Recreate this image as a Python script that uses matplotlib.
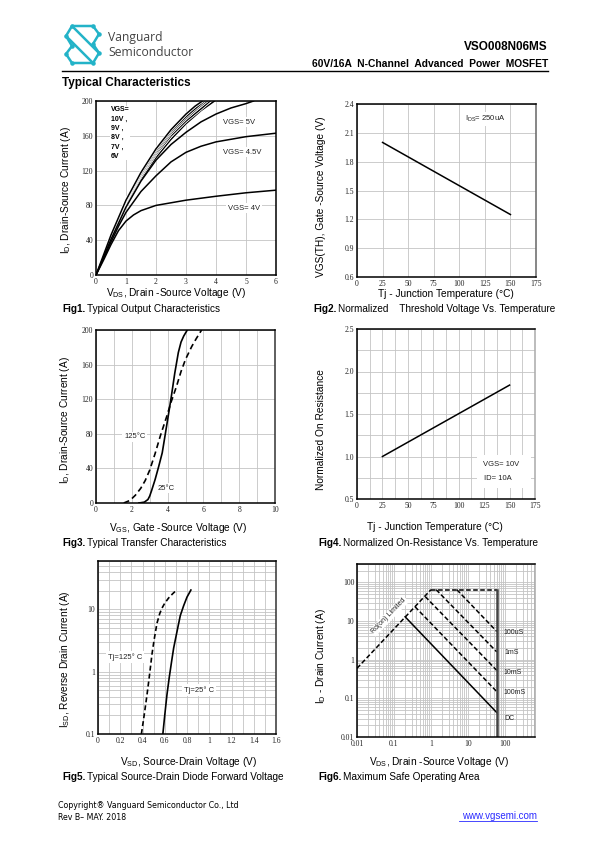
import matplotlib
matplotlib.use('Agg')
import matplotlib.pyplot as plt
from matplotlib.ticker import NullFormatter
from matplotlib.patches import Rectangle
import matplotlib.patheffects as pe

plt.rcParams['font.family'] = ['Liberation Sans', 'DejaVu Sans']
plt.rcParams['mathtext.default'] = 'regular'

# ---------------- data ----------------
# Fig1 output characteristics (VDS, ID)
f1_x_10v = [0, 0.5, 1, 1.5, 2, 2.5, 3, 3.3, 3.55]
f1_y_10v = [0, 46, 86, 118, 145, 167, 185, 194, 200]
f1_x_9v = [0, 0.5, 1, 1.5, 2, 2.5, 3, 3.3, 3.62]
f1_y_9v = [0, 45, 85, 116, 143, 165, 182, 191, 200]
f1_x_8v = [0, 0.5, 1, 1.5, 2, 2.5, 3, 3.4, 3.7]
f1_y_8v = [0, 45, 84, 115, 141, 163, 180, 192, 200]
f1_x_7v = [0, 0.5, 1, 1.5, 2, 2.5, 3, 3.5, 3.8]
f1_y_7v = [0, 44, 82, 113, 139, 160, 177, 191, 200]
f1_x_6v = [0, 0.5, 1, 1.5, 2, 2.5, 3, 3.5, 3.95]
f1_y_6v = [0, 43, 80, 110, 135, 156, 174, 189, 200]
f1_x_5v = [0, 0.5, 1, 1.5, 2, 2.5, 3, 3.5, 4, 4.5, 5, 5.25]
f1_y_5v = [0, 41, 78, 108, 132, 150, 164, 176, 185, 192, 197, 200]
f1_x_45v = [0, 0.25, 0.5, 0.75, 1, 1.5, 2, 2.5, 3, 3.5, 4, 5, 6]
f1_y_45v = [0, 19, 38, 56, 72, 96, 114, 130, 141, 148, 153, 159, 163]
f1_x_4v = [0, 0.25, 0.5, 0.75, 1, 1.25, 1.5, 2, 2.5, 3, 4, 5, 6]
f1_y_4v = [0, 17, 35, 51, 62, 69, 74, 80, 83, 86, 90.5, 94.5, 97.5]

# Fig2 threshold voltage vs temperature
f2_t = [25, 150]
f2_v = [2.0, 1.25]

# Fig3 transfer characteristics (VGS, ID)
f3_x_25 = [2.4, 2.7, 2.9, 3.0, 3.1, 3.3, 3.5, 3.7, 4.0, 4.2, 4.4, 4.6, 4.75, 4.9, 5.1]
f3_y_25 = [0, 1, 4, 8, 14, 27, 42, 58, 96, 122, 150, 174, 186, 193, 200]
f3_x_125 = [1.55, 1.9, 2.2, 2.5, 2.75, 3.0, 3.3, 3.6, 3.95, 4.2, 4.5, 4.75, 5.0, 5.35, 5.6, 5.9]
f3_y_125 = [0, 3, 9, 17, 26, 38, 57, 78, 100, 117, 135, 152, 166, 181, 190, 200]

# Fig4 normalized on-resistance vs temperature
f4_t = [25, 150]
f4_r = [1.0, 1.84]

# Fig5 diode forward voltage (VSD, ISD)
f5_x_125 = [0.39, 0.415, 0.44, 0.46, 0.485, 0.505, 0.53, 0.555, 0.575, 0.60, 0.635, 0.67, 0.70]
f5_y_125 = [0.1, 0.2, 0.42, 0.8, 1.9, 3.3, 6.0, 8.6, 10.5, 12.6, 15.3, 17.8, 20]
f5_x_25 = [0.583, 0.60, 0.62, 0.64, 0.66, 0.68, 0.70, 0.72, 0.74, 0.77, 0.80, 0.835]
f5_y_25 = [0.1, 0.2, 0.43, 0.8, 1.4, 2.4, 3.6, 5.4, 8.0, 11.5, 15.8, 20.5]

# Fig6 safe operating area (VDS, ID)
f6_rds_x = [0.01, 1.0]
f6_rds_y = [0.6, 65]
f6_top_x = [1.0, 60]
f6_top_y = [65, 65]
f6_100us_x = [5, 60]
f6_100us_y = [65, 5.4]
f6_1ms_x = [1.38, 60]
f6_1ms_y = [65, 1.6]
f6_10ms_x = [0.70, 60]
f6_10ms_y = [43, 0.53]
f6_100ms_x = [0.37, 60]
f6_100ms_y = [23.5, 0.15]
f6_dc_x = [0.2, 60]
f6_dc_y = [12.9, 0.043]
f6_vmax_x = [60, 60]
f6_vmax_y = [65, 0.01]

# ---------------- layout helpers ----------------
W, H = 595, 842
fig = plt.figure(figsize=(W / 100, H / 100), dpi=100)


def fx(x):
    return x / W


def fy(y):
    return 1 - y / H


def add_ax(x0, x1, y0, y1):
    return fig.add_axes([fx(x0), fy(y1), (x1 - x0) / W, (y1 - y0) / H])


TICKKW = dict(fontfamily='Liberation Serif', fontsize=5.5, color='#222222')
GRID = dict(color='#c4c4c4', lw=0.6)
LBL = 7.3


def style(ax, right='black'):
    ax.tick_params(which='both', length=0, pad=2)
    for s in ax.spines.values():
        s.set_linewidth(1.1)
        s.set_color('black')
    ax.spines['right'].set_color(right)
    ax.grid(True, which='both', **GRID)
    ax.set_axisbelow(True)


def ftext(x, y, s, **kw):
    return fig.text(fx(x), fy(y), s, **kw)


def wtext(x, y, s, size=5.5, **kw):
    return fig.text(fx(x), fy(y), s, fontsize=size, color='#222222', va='center',
                    bbox=dict(facecolor='white', edgecolor='none', pad=1.2), zorder=5, **kw)


# ---------------- header ----------------
logo = add_ax(58, 106, 22, 68)
logo.set_xlim(58, 106)
logo.set_ylim(68, 22)
logo.axis('off')
teal = '#23b3c8'
segs = [
    [(99, 34), (93, 26), (72, 26), (66, 36), (72, 46)],
    [(66, 54), (72, 63), (93, 63), (99, 53), (93, 44)],
    [(72, 26), (99, 53)],
    [(66, 36), (93, 63)],
    [(72, 46), (66, 54)],
    [(93, 44), (99, 34)],
]
for sg in segs:
    logo.plot([p[0] for p in sg], [p[1] for p in sg], color=teal, lw=1.8,
              solid_capstyle='round', solid_joinstyle='round')
dots = [(72, 26), (93, 26), (66, 36), (72, 46), (93, 44), (99, 53), (93, 63), (72, 63), (99, 34), (66, 54)]
logo.scatter([d[0] for d in dots], [d[1] for d in dots], s=5, color=teal, zorder=3)

ftext(108, 38, 'Vanguard', fontsize=8.7, color='#444444', va='center', fontfamily='Open Sans')
ftext(108, 53, 'Semiconductor', fontsize=8.7, color='#444444', va='center', fontfamily='Open Sans')
ftext(548, 47, 'VSO008N06MS', fontsize=8.5, fontweight='bold', ha='right', va='center')
ftext(548, 64, '60V/16A  N-Channel  Advanced  Power  MOSFET', fontsize=7.4,
      fontweight='bold', ha='right', va='center')
fig.add_artist(plt.Line2D([fx(62), fx(548)], [fy(71), fy(71)], color='black', lw=1.0))
ftext(62, 83, 'Typical Characteristics', fontsize=8.5, fontweight='bold', va='center')

# ---------------- Fig1 ----------------
ax1 = add_ax(96, 276, 101, 275)
ax1.set_xlim(0, 6)
ax1.set_ylim(0, 200)
ax1.set_xticks(range(7), [str(i) for i in range(7)], **TICKKW)
ax1.set_yticks(range(0, 201, 40), [str(v) for v in range(0, 201, 40)], **TICKKW)
style(ax1)
halo = [pe.withStroke(linewidth=2.3, foreground='white')]
for xs, ys in [(f1_x_6v, f1_y_6v), (f1_x_7v, f1_y_7v), (f1_x_8v, f1_y_8v),
               (f1_x_9v, f1_y_9v), (f1_x_10v, f1_y_10v)]:
    ax1.plot(xs, ys, color='black', lw=1.1, path_effects=halo, clip_on=True)
for xs, ys in [(f1_x_5v, f1_y_5v), (f1_x_45v, f1_y_45v), (f1_x_4v, f1_y_4v)]:
    ax1.plot(xs, ys, color='black', lw=1.1)
ftext(111, 133, 'VGS=\n10V ,\n9V ,\n8V ,\n7V ,\n6V', fontsize=5, fontweight='bold',
      va='center', linespacing=1.45,
      bbox=dict(facecolor='white', edgecolor='none', pad=0.5), zorder=5)
wtext(223, 122, 'VGS= 5V')
wtext(223, 152, 'VGS= 4.5V')
wtext(228, 208, 'VGS= 4V')
ftext(176, 293, r'V$_{DS}$, Drain -Source Voltage (V)', fontsize=LBL, ha='center', va='center')
ftext(66, 190, r'I$_{D}$, Drain-Source Current (A)', fontsize=LBL, ha='center', va='center',
      rotation=90)

# ---------------- Fig2 ----------------
ax2 = add_ax(357, 536, 104, 277)
ax2.set_xlim(0, 175)
ax2.set_ylim(0.6, 2.4)
ax2.set_xticks(range(0, 176, 25), [str(v) for v in range(0, 176, 25)], **TICKKW)
yt2 = [0.6, 0.9, 1.2, 1.5, 1.8, 2.1, 2.4]
ax2.set_yticks(yt2, ['%.1f' % v for v in yt2], **TICKKW)
style(ax2, right='#666666')
ax2.plot(f2_t, f2_v, color='black', lw=1.1)
wtext(465, 119, r'I$_{DS}$= 250uA')
ftext(446, 294, 'Tj - Junction Temperature (°C)', fontsize=LBL, ha='center', va='center')
ftext(321, 197, 'VGS(TH), Gate -Source Voltage (V)', fontsize=LBL, ha='center', va='center',
      rotation=90)

# ---------------- Fig3 ----------------
ax3 = add_ax(96, 275, 330, 503)
ax3.set_xlim(0, 10)
ax3.set_ylim(0, 200)
ax3.set_xticks(range(0, 11, 2), [str(v) for v in range(0, 11, 2)], **TICKKW)
ax3.set_xticks(range(0, 11), minor=True)
ax3.set_yticks(range(0, 201, 40), [str(v) for v in range(0, 201, 40)], **TICKKW)
style(ax3, right='#333333')
ax3.plot(f3_x_25, f3_y_25, color='black', lw=1.2)
ax3.plot(f3_x_125, f3_y_125, color='black', lw=1.2, ls=(0, (3.5, 2.2)))
wtext(124, 437, '125°C')
wtext(158, 488, '25°C')
ftext(178, 528, r'V$_{GS}$, Gate -Source Voltage (V)', fontsize=LBL, ha='center', va='center')
ftext(65, 420, r'I$_{D}$, Drain-Source Current (A)', fontsize=LBL, ha='center', va='center',
      rotation=90)

# ---------------- Fig4 ----------------
ax4 = add_ax(357, 535, 329, 499)
ax4.set_xlim(0, 175)
ax4.set_ylim(0.5, 2.5)
ax4.set_xticks(range(0, 176, 25), [str(v) for v in range(0, 176, 25)], **TICKKW)
ax4.set_xticks([12.5 + 25 * i for i in range(7)], minor=True)
yt4 = [0.5, 1.0, 1.5, 2.0, 2.5]
ax4.set_yticks(yt4, ['%.1f' % v for v in yt4], **TICKKW)
ax4.set_yticks([0.75, 1.25, 1.75, 2.25], minor=True)
style(ax4, right='#aaaaaa')
ax4.plot(f4_t, f4_r, color='black', lw=1.1)
fig.add_artist(Rectangle((fx(477), fy(488)), 54 / W, 33 / H, transform=fig.transFigure,
                         facecolor='white', edgecolor='none', zorder=4))
ftext(483, 465, 'VGS= 10V', fontsize=5.5, color='#222222', va='center', zorder=5)
ftext(484, 479, 'ID= 10A', fontsize=5.5, color='#222222', va='center', zorder=5)
ftext(435, 527, 'Tj - Junction Temperature (°C)', fontsize=LBL, ha='center', va='center')
ftext(321, 430, 'Normalized On Resistance', fontsize=LBL, ha='center', va='center', rotation=90)

# ---------------- Fig5 ----------------
ax5 = add_ax(98, 276, 561, 734)
ax5.set_yscale('log')
ax5.set_xlim(0, 1.6)
ax5.set_ylim(0.1, 60)
xt5 = [0, 0.2, 0.4, 0.6, 0.8, 1.0, 1.2, 1.4, 1.6]
ax5.set_xticks(xt5, ['0', '0.2', '0.4', '0.6', '0.8', '1', '1.2', '1.4', '1.6'], **TICKKW)
ax5.set_xticks([0.1 + 0.2 * i for i in range(8)], minor=True)
ax5.set_yticks([0.1, 1, 10], ['0.1', '1', '10'], **TICKKW)
ax5.set_yticks([m * d for d in (0.1, 1, 10) for m in range(2, 10) if m * d <= 60], minor=True)
ax5.yaxis.set_minor_formatter(NullFormatter())
style(ax5, right='#333333')
ax5.plot(f5_x_25, f5_y_25, color='black', lw=1.2)
ax5.plot(f5_x_125, f5_y_125, color='black', lw=1.2, ls=(0, (3, 1.8)))
wtext(108, 657, 'Tj=125° C')
wtext(184, 690, 'Tj=25° C')
ftext(189, 762, r'V$_{SD}$, Source-Drain Voltage (V)', fontsize=LBL, ha='center', va='center')
ftext(65, 659, r'I$_{SD}$, Reverse Drain Current (A)', fontsize=LBL, ha='center', va='center',
      rotation=90)

# ---------------- Fig6 ----------------
ax6 = add_ax(357, 535, 564, 737)
ax6.set_xscale('log')
ax6.set_yscale('log')
ax6.set_xlim(0.01, 650)
ax6.set_ylim(0.01, 300)
dec = [0.01, 0.1, 1, 10, 100]
ax6.set_xticks(dec, ['0.01', '0.1', '1', '10', '100'], **TICKKW)
ax6.set_yticks(dec, ['0.01', '0.1', '1', '10', '100'], **TICKKW)
ax6.set_xticks([m * d for d in dec for m in range(2, 10) if m * d <= 650], minor=True)
ax6.set_yticks([m * d for d in dec for m in range(2, 10) if m * d <= 300], minor=True)
ax6.xaxis.set_minor_formatter(NullFormatter())
ax6.yaxis.set_minor_formatter(NullFormatter())
style(ax6, right='#aaaaaa')
dash = (0, (3, 1.6))
for xs, ys in [(f6_rds_x, f6_rds_y), (f6_top_x, f6_top_y), (f6_100us_x, f6_100us_y),
               (f6_1ms_x, f6_1ms_y), (f6_10ms_x, f6_10ms_y), (f6_100ms_x, f6_100ms_y)]:
    ax6.plot(xs, ys, color='black', lw=1.1, ls=dash)
ax6.plot(f6_dc_x, f6_dc_y, color='black', lw=1.1)
ax6.plot(f6_vmax_x, f6_vmax_y, color='#444444', lw=1.8)
for (x, y, s) in [(503, 633, '100uS'), (504, 653, '1mS'), (503, 672, '10mS'),
                  (503, 692, '100mS'), (504, 718, 'DC')]:
    ftext(x, y, s, fontsize=5, color='#222222', va='center', zorder=5)
ftext(389, 616, 'Rd(on) Limited', fontsize=5, color='#222222', ha='center', va='center',
      rotation=46, bbox=dict(facecolor='white', edgecolor='none', pad=0.8), zorder=5)
ftext(439, 762, r'V$_{DS}$, Drain -Source Voltage (V)', fontsize=LBL, ha='center', va='center')
ftext(321, 656, r'I$_{D}$ - Drain Current (A)', fontsize=LBL, ha='center', va='center',
      rotation=90)

# ---------------- captions ----------------
renderer = fig.canvas.get_renderer()
CAP = 7.2


def caption(x, y, num, rest):
    t = ftext(x, y, num, fontsize=CAP, fontweight='bold', va='center')
    bb = t.get_window_extent(renderer=renderer)
    fig.text(bb.x1 / W + 1.5 / W, fy(y), rest, fontsize=CAP, va='center')


caption(62, 309, 'Fig1.', 'Typical Output Characteristics')
caption(313, 309, 'Fig2.', 'Normalized    Threshold Voltage Vs. Temperature')
caption(62, 543, 'Fig3.', 'Typical Transfer Characteristics')
caption(318, 543, 'Fig4.', 'Normalized On-Resistance Vs. Temperature')
caption(62, 777, 'Fig5.', 'Typical Source-Drain Diode Forward Voltage')
caption(318, 777, 'Fig6.', 'Maximum Safe Operating Area')

# ---------------- footer ----------------
ftext(58, 805, 'Copyright® Vanguard Semiconductor Co., Ltd', fontsize=5.7, va='center',
      fontfamily='DejaVu Sans')
ftext(58, 817, 'Rev B– MAY. 2018', fontsize=5.7, va='center', fontfamily='DejaVu Sans')
url = ftext(537, 816, 'www.vgsemi.com', fontsize=7, color='#2a2aff', ha='right', va='center')
fig.add_artist(plt.Line2D([fx(459), fx(537)], [fy(821), fy(821)], color='#2a2aff', lw=0.6))

fig.savefig('out.png', dpi=100)
